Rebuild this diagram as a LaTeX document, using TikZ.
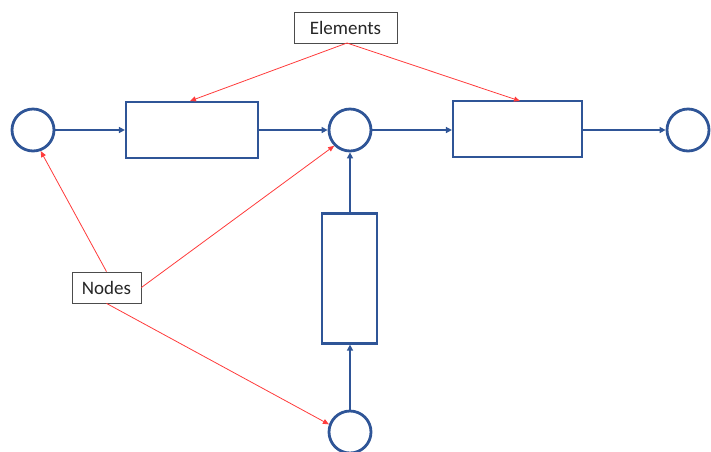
\documentclass[tikz,border=0pt]{standalone}
\usepackage{fontspec}
\setmainfont{Carlito}
\usetikzlibrary{arrows.meta}
\definecolor{netblue}{HTML}{2F5597}
\definecolor{notered}{HTML}{FF3B3B}
\tikzset{
  junction/.style={circle, draw=netblue, line width=2.8pt, minimum size=42pt, inner sep=0pt},
  element/.style={rectangle, draw=netblue, line width=2.2pt, inner sep=0pt},
  flow/.style={draw=netblue, line width=2.6pt, -{Triangle[length=6pt,width=6pt]}},
  label box/.style={rectangle, draw=black!70, line width=0.8pt, fill=white, text=black!85, font=\fontsize{19}{22}\selectfont, inner sep=0pt},
  pointer/.style={draw=notered, line width=0.8pt, -{Triangle[length=6pt,width=5pt]}}
}
\begin{document}
\begin{tikzpicture}[x=1pt,y=-1pt]
\useasboundingbox (0,0) rectangle (711,451);
% junction nodes
\node[junction] (n1) at (33,130) {};
\node[junction] (n2) at (350,130) {};
\node[junction] (n3) at (688,130) {};
\node[junction] (n4) at (350,432) {};
% elements
\node[element, minimum width=132pt, minimum height=56pt] (e1) at (192,130) {};
\node[element, minimum width=129pt, minimum height=56pt] (e2) at (517.5,129) {};
\node[element, minimum width=55pt, minimum height=130pt] (e3) at (349.5,278.5) {};
% flows
\draw[flow] (n1.east) -- (e1.west |- n1.east);
\draw[flow] (e1.east |- n2.west) -- (n2.west);
\draw[flow] (n2.east) -- (e2.west |- n2.east);
\draw[flow] (e2.east |- n3.west) -- (n3.west);
\draw[flow] (e3.north -| n2.south) -- (n2.south);
\draw[flow] (n4.north) -- (n4.north |- e3.south);
% annotation labels
\node[label box, minimum width=103pt, minimum height=31pt] (lel) at (345.5,27.5) {Elements};
\node[label box, minimum width=69pt, minimum height=31pt] (lnd) at (106.5,287.5) {Nodes};
\coordinate (lelb) at (347,43);
\draw[pointer] (lelb) -- (190,101);
\draw[pointer] (lelb) -- (520,101);
\draw[pointer] (lnd.north) -- (n1.-70);
\draw[pointer] (lnd.east) -- (n2.-135);
\draw[pointer] (lnd.south) -- (n4.160);
\end{tikzpicture}
\end{document}
